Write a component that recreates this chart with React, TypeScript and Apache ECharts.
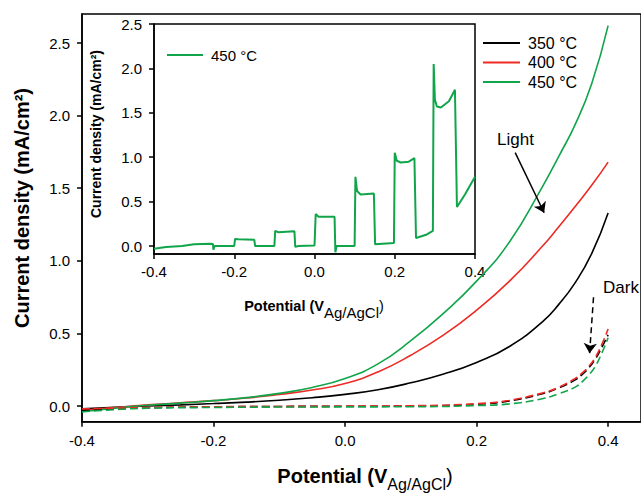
import React, { useEffect, useRef } from "react";
import * as echarts from "echarts";

// ---------- data ----------
const lightPotential = [-0.4, -0.35, -0.3, -0.25, -0.2, -0.15, -0.1, -0.05, 0, 0.05, 0.1, 0.15, 0.2, 0.25, 0.3, 0.325, 0.35, 0.375, 0.4];
const light350 = [-0.02, -0.008, 0.0, 0.008, 0.017, 0.027, 0.04, 0.057, 0.08, 0.112, 0.16, 0.22, 0.3, 0.41, 0.58, 0.7, 0.85, 1.05, 1.33];
const light400 = [-0.03, -0.01, 0.008, 0.022, 0.037, 0.055, 0.08, 0.11, 0.155, 0.235, 0.35, 0.49, 0.66, 0.86, 1.1, 1.235, 1.375, 1.52, 1.68];
const light450 = [-0.04, -0.015, 0.005, 0.02, 0.037, 0.058, 0.087, 0.128, 0.19, 0.29, 0.45, 0.64, 0.86, 1.13, 1.51, 1.72, 1.94, 2.22, 2.62];

const darkPotential = [-0.4, -0.35, -0.3, -0.2, -0.1, 0, 0.1, 0.2, 0.25, 0.3, 0.325, 0.35, 0.36, 0.37, 0.38, 0.39, 0.4];
const dark350 = [-0.03, -0.02, -0.012, -0.006, -0.003, -0.002, 0.0, 0.012, 0.035, 0.085, 0.125, 0.18, 0.215, 0.26, 0.32, 0.4, 0.49];
const dark400 = [-0.02, -0.015, -0.01, -0.005, -0.003, -0.001, 0.002, 0.016, 0.04, 0.09, 0.13, 0.19, 0.225, 0.27, 0.33, 0.42, 0.53];
const dark450 = [-0.04, -0.025, -0.015, -0.01, -0.007, -0.006, -0.005, 0.003, 0.015, 0.05, 0.085, 0.13, 0.165, 0.21, 0.27, 0.36, 0.47];

const insetPotential = [
  -0.4, -0.37, -0.33, -0.3, -0.26, -0.253, -0.252, -0.249, -0.2, -0.198, -0.19, -0.15, -0.148,
  -0.1, -0.098, -0.09, -0.05, -0.048, -0.04, 0.0, 0.003, 0.01, 0.05, 0.052, 0.055,
  0.1, 0.102, 0.106, 0.115, 0.148, 0.151, 0.198, 0.2, 0.205, 0.215, 0.235, 0.249, 0.253,
  0.28, 0.295, 0.297, 0.3, 0.305, 0.315, 0.335, 0.35, 0.355, 0.375, 0.4,
];
const insetCurrent = [
  -0.03, -0.01, 0.0, 0.02, 0.025, 0.022, -0.04, 0.0, 0.0, 0.08, 0.075, 0.07, 0.0,
  0.0, 0.17, 0.155, 0.165, -0.01, 0.0, 0.005, 0.36, 0.33, 0.33, -0.07, 0.0,
  0.0, 0.78, 0.62, 0.58, 0.59, 0.02, 0.035, 1.05, 0.96, 0.94, 0.95, 0.99, 0.09,
  0.13, 0.17, 2.05, 1.65, 1.57, 1.56, 1.63, 1.76, 0.44, 0.58, 0.78,
];

const xTicks = [-0.4, -0.2, 0, 0.2, 0.4];
const yTicks = [0, 0.5, 1, 1.5, 2, 2.5];
const seriesNames = ["350 °C", "400 °C", "450 °C"];

// ---------- styling ----------
const FONT = '"Liberation Sans", Arial, sans-serif';
const BLACK = "#000000";
const RED = "#ee2a24";
const GREEN = "#10a54a";

const pair = (xs: number[], ys: number[]) => xs.map((x, i) => [x, ys[i]]);

function axis(ticks: number[], margin: number, extra: any) {
  return {
    type: "value",
    axisLine: { show: true, onZero: false, lineStyle: { color: BLACK, width: 1.5 } },
    axisTick: { show: true, length: 5, lineStyle: { color: BLACK, width: 1.5 }, customValues: ticks },
    axisLabel: {
      color: BLACK,
      fontSize: 15,
      fontFamily: FONT,
      margin,
      customValues: ticks,
      formatter: (v: number) => v.toFixed(1),
    },
    splitLine: { show: false },
    ...extra,
  };
}

function titleRich(big: number, small: number, lh: number) {
  return {
    b: { fontSize: big, fontWeight: "bold", fontFamily: FONT, lineHeight: lh, verticalAlign: "top", fill: BLACK },
    s: { fontSize: small, fontFamily: FONT, verticalAlign: "bottom", fill: BLACK },
    r: { fontSize: big, fontFamily: FONT, verticalAlign: "top", fill: BLACK },
  };
}

function textEl(x: number, y: number, text: string, font: string, rotation = 0, extraStyle: any = {}) {
  return {
    type: "text",
    x,
    y,
    rotation,
    z: 100,
    style: {
      text,
      font,
      fill: BLACK,
      align: "center",
      verticalAlign: "middle",
      textAlign: "center",
      textVerticalAlign: "middle",
      ...extraStyle,
    },
  };
}

const lineSeries = (name: string, xs: number[], ys: number[], color: string, dashed: boolean, extra: any = {}) => ({
  name,
  type: "line",
  data: pair(xs, ys),
  smooth: true,
  showSymbol: false,
  symbol: "none",
  lineStyle: { color, width: 1.6, type: dashed ? [8, 4] : "solid" },
  itemStyle: { color },
  ...extra,
});

const option: any = {
  animation: false,
  backgroundColor: "#ffffff",
  textStyle: { fontFamily: FONT },
  grid: [
    { left: 82, top: 14, width: 566, height: 407.7, show: true, borderColor: BLACK, borderWidth: 1.5, containLabel: false },
    { left: 154, top: 24, width: 321, height: 230, show: true, borderColor: BLACK, borderWidth: 1.5, containLabel: false },
  ],
  xAxis: [
    axis(xTicks, 11, { gridIndex: 0, min: -0.4, max: 0.45 }),
    axis(xTicks, 10, { gridIndex: 1, min: -0.4, max: 0.4 }),
  ],
  yAxis: [
    axis(yTicks, 12, { gridIndex: 0, min: -0.108, max: 2.7 }),
    axis(yTicks, 12, { gridIndex: 1, min: -0.09, max: 2.5 }),
  ],
  legend: [
    {
      data: seriesNames,
      orient: "vertical",
      left: 483,
      top: 35,
      padding: 0,
      icon: "rect",
      itemWidth: 37,
      itemHeight: 2,
      itemGap: 3.5,
      textStyle: { fontSize: 16, fontFamily: FONT, color: BLACK, lineHeight: 16, padding: [0, 0, 0, 3] },
    },
    {
      data: ["450 °C"],
      orient: "vertical",
      left: 167,
      top: 47,
      padding: 0,
      icon: "rect",
      itemWidth: 36,
      itemHeight: 2,
      textStyle: { fontSize: 15, fontFamily: FONT, color: BLACK, lineHeight: 16, padding: [0, 0, 0, 3] },
    },
  ],
  series: [
    lineSeries(seriesNames[0], lightPotential, light350, BLACK, false, {
      markLine: {
        silent: true,
        symbol: ["none", "arrow"],
        symbolSize: 10,
        label: { show: false },
        itemStyle: { color: BLACK },
        lineStyle: { color: BLACK, width: 1.5, type: "solid" },
        data: [
          [{ coord: [0.2587, 1.745] }, { coord: [0.3027, 1.331] }],
          [
            { coord: [0.3778, 0.749], lineStyle: { type: [6, 4], color: BLACK, width: 1.5 } },
            { coord: [0.3718, 0.363] },
          ],
        ],
      },
    }),
    lineSeries(seriesNames[1], lightPotential, light400, RED, false),
    lineSeries(seriesNames[2], lightPotential, light450, GREEN, false),
    lineSeries("350 °C dark", darkPotential, dark350, BLACK, true),
    lineSeries("400 °C dark", darkPotential, dark400, RED, true),
    lineSeries("450 °C dark", darkPotential, dark450, GREEN, true),
    {
      name: "450 °C",
      type: "line",
      xAxisIndex: 1,
      yAxisIndex: 1,
      data: pair(insetPotential, insetCurrent),
      smooth: false,
      showSymbol: false,
      symbol: "none",
      lineStyle: { color: GREEN, width: 2 },
      itemStyle: { color: GREEN },
    },
  ],
  graphic: [
    textEl(22, 208, "Current density (mA/cm²)", `bold 20px ${FONT}`, Math.PI / 2),
    textEl(96, 134, "Current density (mA/cm²)", `bold 14px ${FONT}`, Math.PI / 2),
    textEl(365, 479, "{b|Potential (V}{s|Ag/AgCl}{r|)}", `bold 20px ${FONT}`, 0, { rich: titleRich(20, 16, 26) }),
    textEl(314, 309, "{b|Potential (V}{s|Ag/AgCl}{r|)}", `bold 14px ${FONT}`, 0, { rich: titleRich(14.5, 15, 21) }),
    textEl(497, 139, "Light", `17px ${FONT}`, 0, { align: "left", textAlign: "left" }),
    textEl(603, 287, "Dark", `17px ${FONT}`, 0, { align: "left", textAlign: "left" }),
  ],
};

export default function App() {
  const ref = useRef<HTMLDivElement>(null);
  useEffect(() => {
    document.body.style.margin = "0";
    const chart = echarts.init(ref.current as HTMLDivElement, null, { renderer: "svg" });
    chart.setOption(option);
    return () => chart.dispose();
  }, []);
  return <div ref={ref} style={{ width: 641, height: 493 }} />;
}
